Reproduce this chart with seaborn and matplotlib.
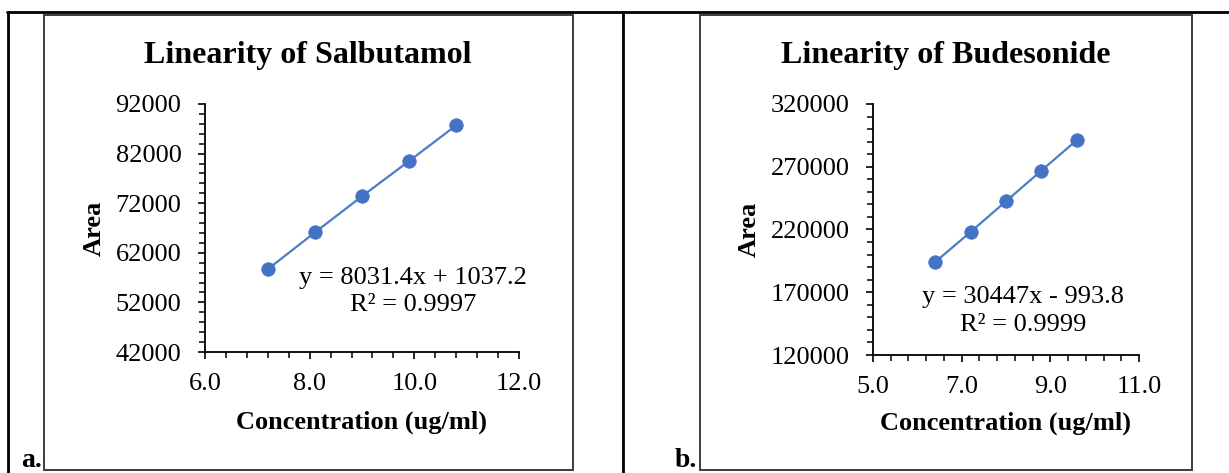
import matplotlib
matplotlib.use("Agg")
import matplotlib.pyplot as plt
import seaborn as sns
import pandas as pd
from matplotlib.ticker import MultipleLocator, FormatStrFormatter
from matplotlib.patches import Rectangle
from matplotlib.lines import Line2D

# ---- data ----
salb_conc = [7.2, 8.1, 9.0, 9.9, 10.8]
salb_area = [58700, 66100, 73400, 80500, 87700]
bude_conc = [6.4, 7.2, 8.0, 8.8, 9.6]
bude_area = [194000, 218000, 242500, 267000, 291300]

titles = ["Linearity of Salbutamol", "Linearity of Budesonide"]
eq_lines = [["y = 8031.4x + 1037.2", "R² = 0.9997"],
            ["y = 30447x - 993.8", "R² = 0.9999"]]
panel_tags = ["a.", "b."]
xlabel = "Concentration (ug/ml)"
ylabel = "Area"

sns.set_theme(style="white")
plt.rcParams["font.family"] = ["Liberation Serif", "DejaVu Serif"]
plt.rcParams["axes.linewidth"] = 1.2

W, H = 1229, 473
fig = plt.figure(figsize=(W / 100, H / 100), dpi=100)
fig.patch.set_facecolor("white")

def fx(px):
    return px / W

def fy(py):
    return 1 - py / H

MARK = "#4472C4"
LINE = "#4A7EC6"

panels = [
    dict(x=salb_conc, y=salb_area, ax=(205, 519, 104, 352), xlim=(6, 12), ylim=(42000, 92000),
         xmaj=(2, 0), xmin=(0.4, 0), ymaj=(10000, 2000), ymin=(2000, 0), box=(44, 572.5), title_x=308,
         eq_x=413, eq_y=(278, 305), xl_y=422, yl_x=94, tag_x=42),
    dict(x=bude_conc, y=bude_area, ax=(873, 1139, 104, 355), xlim=(5, 11), ylim=(120000, 320000),
         xmaj=(2, 1), xmin=(0.4, 0.2), ymaj=(50000, 20000), ymin=(10000, 0), box=(699.5, 1191.6),
         title_x=945.5, eq_x=1023, eq_y=(297, 325), xl_y=423, yl_x=749, tag_x=697),
]

for i, p in enumerate(panels):
    x0, x1, yt, yb = p["ax"]
    ax = fig.add_axes([fx(x0), fy(yb), (x1 - x0) / W, (yb - yt) / H])
    df = pd.DataFrame({"conc": p["x"], "area": p["y"]})
    sns.lineplot(data=df, x="conc", y="area", ax=ax, color=LINE, lw=1.6, zorder=2)
    sns.scatterplot(data=df, x="conc", y="area", ax=ax, color=MARK, s=95,
                    edgecolor=MARK, linewidth=0.5, zorder=3)
    ax.set_xlim(*p["xlim"])
    ax.set_ylim(*p["ylim"])
    ax.xaxis.set_major_locator(MultipleLocator(p["xmaj"][0], offset=p["xmaj"][1]))
    ax.xaxis.set_minor_locator(MultipleLocator(p["xmin"][0], offset=p["xmin"][1]))
    ax.yaxis.set_major_locator(MultipleLocator(p["ymaj"][0], offset=p["ymaj"][1]))
    ax.yaxis.set_minor_locator(MultipleLocator(p["ymin"][0], offset=p["ymin"][1]))
    ax.xaxis.set_major_formatter(FormatStrFormatter("%.1f"))
    ax.yaxis.set_major_formatter(FormatStrFormatter("%d"))
    for s in ["top", "right"]:
        ax.spines[s].set_visible(False)
    for s in ["left", "bottom"]:
        ax.spines[s].set_color("black")
        ax.spines[s].set_linewidth(1.3)
    ax.tick_params(axis="both", which="major", direction="out", length=5, width=1.2,
                   color="black", labelsize=19, labelcolor="black", bottom=True, left=True)
    ax.tick_params(axis="both", which="minor", direction="out", length=4, width=1.1,
                   color="black", bottom=True, left=True)
    ax.tick_params(axis="x", which="major", pad=10)
    ax.tick_params(axis="y", which="major", pad=12)
    ax.set_xlabel(xlabel, fontsize=19, fontweight="bold", color="black")
    ax.set_ylabel(ylabel, fontsize=19, fontweight="bold", color="black")
    hpx = yb - yt
    wpx = x1 - x0
    ax.xaxis.set_label_coords(0.5, -(p["xl_y"] - yb) / hpx)
    ax.xaxis.label.set_va("center")
    ax.yaxis.set_label_coords((p["yl_x"] - x0) / wpx, 0.5)
    ax.yaxis.label.set_va("center")
    ax.set_facecolor("none")
    for line_text, ly in zip(eq_lines[i], p["eq_y"]):
        ax.text((p["eq_x"] - x0) / wpx, (yb - ly) / hpx, line_text, transform=ax.transAxes,
                ha="center", va="center", fontsize=19, color="black")
    # chart box
    bx0, bx1 = p["box"]
    fig.add_artist(Rectangle((fx(bx0), fy(470)), (bx1 - bx0) / W, (470 - 15) / H,
                             fill=False, edgecolor="#3c3c3c", lw=1.4, zorder=0))
    fig.text(fx(p["title_x"]), fy(63), titles[i], ha="center", va="baseline",
             fontsize=23, fontweight="bold", color="black")
    fig.text(fx(p["tag_x"]), fy(467), panel_tags[i], ha="right", va="baseline",
             fontsize=20, fontweight="bold", color="black")

# table lines
fig.add_artist(Line2D([fx(7), 1], [fy(12), fy(12)], color="black", lw=2.0))
fig.add_artist(Line2D([fx(8), fx(8)], [fy(12), 0], color="black", lw=2.0))
fig.add_artist(Line2D([fx(623), fx(623)], [fy(12), 0], color="black", lw=2.0))

fig.savefig("out.png", dpi=100, facecolor="white")
